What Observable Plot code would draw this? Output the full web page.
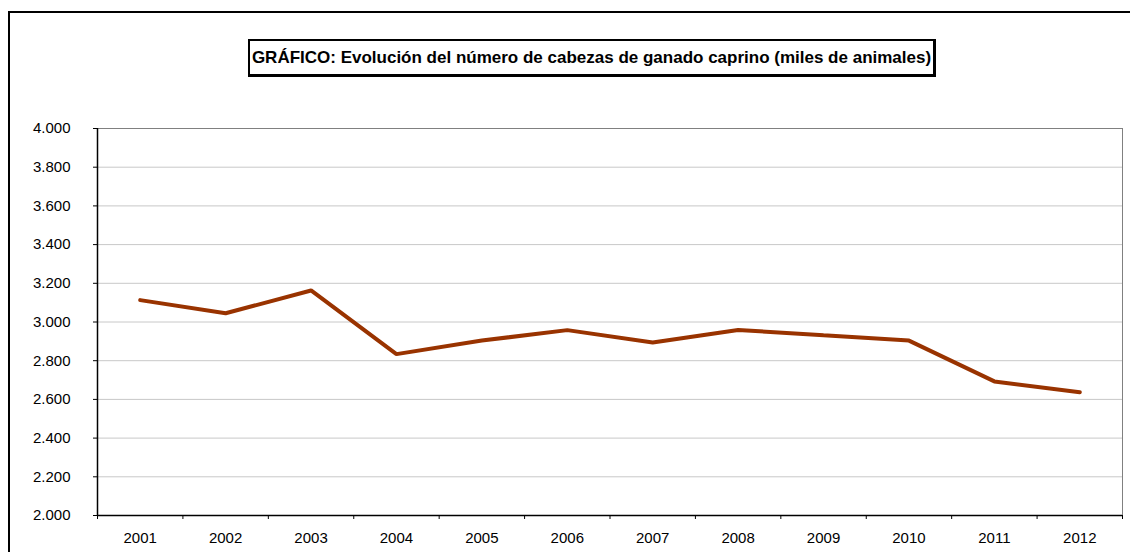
<!DOCTYPE html>
<html>
<head>
<meta charset="utf-8">
<script src="https://cdn.jsdelivr.net/npm/d3@7"></script>
<script src="https://cdn.jsdelivr.net/npm/@observablehq/plot@0.6"></script>
<style>
  html, body { margin: 0; padding: 0; background: #fff; }
  body { width: 1130px; height: 552px; position: relative; overflow: hidden; font-family: "Liberation Sans", Arial, sans-serif; }
  #frame { position: absolute; left: 8px; top: 11px; width: 1200px; height: 700px; border-left: 2px solid #000; border-top: 2px solid #000; box-sizing: border-box; }
  #title { position: absolute; left: 248px; top: 39px; width: 688px; height: 38px; border: 2px solid #000; border-right-width: 3px; border-bottom-width: 3px; box-sizing: border-box;
           display: flex; align-items: center; justify-content: center; font-weight: bold; font-size: 17px; color: #000; white-space: nowrap; }
  #chart { position: absolute; left: 0; top: 0; }
</style>
</head>
<body>
<div id="frame"></div>
<div id="chart"></div>
<div id="title">GRÁFICO: Evolución del número de cabezas de ganado caprino (miles de animales)</div>
<script>
const years = [2001, 2002, 2003, 2004, 2005, 2006, 2007, 2008, 2009, 2010, 2011, 2012];
const goats = [3113, 3045, 3163, 2834, 2904, 2958, 2894, 2959, 2931, 2904, 2693, 2637];
const yTicks = [2000, 2200, 2400, 2600, 2800, 3000, 3200, 3400, 3600, 3800, 4000];
const xBoundaries = [2000.5, 2001.5, 2002.5, 2003.5, 2004.5, 2005.5, 2006.5, 2007.5, 2008.5, 2009.5, 2010.5, 2011.5, 2012.5];

const data = years.map((y, i) => ({year: y, value: goats[i]}));
const es = d3.formatLocale({decimal: ",", thousands: ".", grouping: [3], currency: ["", " €"]});
const fmt = es.format(",.0f");

const plot = Plot.plot({
  width: 1130,
  height: 552,
  marginLeft: 97,
  marginRight: 8,
  marginTop: 128,
  marginBottom: 37,
  style: {fontFamily: "'Liberation Sans', Arial, sans-serif", fontSize: "15px", background: "transparent", color: "#000"},
  x: {domain: [2000.5, 2012.5]},
  y: {domain: [2000, 4000]},
  marks: [
    Plot.gridY(yTicks, {stroke: "#c8c8c8", strokeOpacity: 1, strokeWidth: 1}),
    Plot.frame({stroke: "#808080", strokeWidth: 1}),
    Plot.axisY({ticks: yTicks, tickFormat: fmt, tickSize: 4, tickPadding: 23, label: null, stroke: "#000", fill: "#000"}),
    Plot.axisX({ticks: xBoundaries, tickFormat: () => "", tickSize: 4, label: null, stroke: "#000"}),
    Plot.axisX({ticks: years, tickFormat: d => String(d), tickSize: 0, tickPadding: 17, label: null, fill: "#000"}),
    Plot.ruleX([2000.5], {stroke: "#000", strokeWidth: 1.5}),
    Plot.ruleY([2000], {stroke: "#000", strokeWidth: 1.5}),
    Plot.line(data, {x: "year", y: "value", stroke: "#993300", strokeWidth: 4, strokeLinejoin: "miter", strokeLinecap: "round"})
  ]
});
document.getElementById("chart").appendChild(plot);
</script>
</body>
</html>
